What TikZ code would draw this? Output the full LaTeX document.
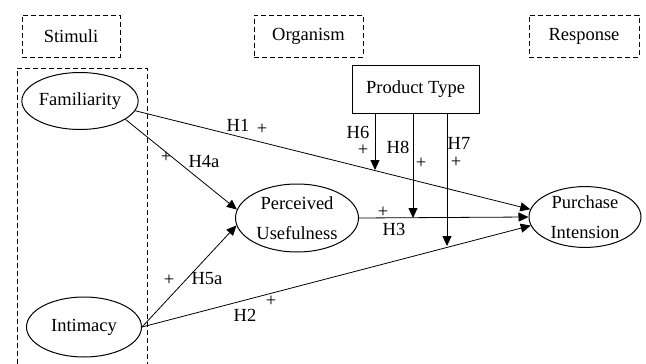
\documentclass[tikz,border=0pt]{standalone}
\usepackage{fontspec}
\setmainfont{Liberation Serif}
\usetikzlibrary{shapes.geometric,arrows.meta}

\begin{document}
\begin{tikzpicture}[
        x=1pt, y=-1pt,
        every node/.style={
            font=\rmfamily\fontsize{18.5}{30}\selectfont,
            inner sep=0pt
        },
        stage/.style={
            draw=black,
            line width=0.9pt,
            dash pattern=on 5pt off 3pt,
            minimum height=42pt
        },
        construct/.style={
            ellipse,
            draw=black,
            line width=1pt,
            align=center
        },
        path/.style={
            draw=black,
            line width=0.8pt,
            -{Triangle[length=10pt,width=9pt]}
        }
    ]
    \useasboundingbox (0,0) rectangle (646,364);

    % Stages
    \node[stage, minimum width=98pt]  (st) at (71,36)    {Stimuli};
    \node[stage, minimum width=109pt] (org) at (308.5,36) {Organism};
    \node[stage, minimum width=110pt] (res) at (584,36)   {Response};
    \draw[line width=0.9pt, dash pattern=on 5pt off 3pt] (17,364) -- (17,68) -- (147,68) -- (147,364);

    % Constructs
    \node[construct, minimum width=114pt, minimum height=57pt] (fam) at (80,101)  {Familiarity};
    \node[construct, minimum width=115pt, minimum height=60pt] (int) at (84,327)  {Intimacy};
    \node[construct, minimum width=123pt, minimum height=68pt] (pu)  at (297,218) {Perceived\\Usefulness};
    \node[construct, minimum width=112pt, minimum height=60pt] (pi)  at (585,217) {Purchase\\Intension};
    \node[draw=black, line width=1pt, minimum width=127pt, minimum height=48pt] (pt) at (415.5,89) {Product Type};

    % Paths
    \draw[path] (fam.-10) -- (pi.172);
    \draw[path] (fam.-22) -- (pu.172);
    \draw[path] (int.east) -- (pu.187);
    \draw[path] (int.east) -- (pi.189);
    \draw[path] (pu.east) -- (pi.west);

    % Moderation
    \coordinate (m6) at (375,170);
    \coordinate (m8) at (413,218);
    \coordinate (m7) at (447,246);
    \draw[path] (pt.south -| m6) -- (m6);
    \draw[path] (pt.south -| m8) -- (m8);
    \draw[path] (pt.south -| m7) -- (m7);

    % Labels
    \node (h1)  at (238,125) {H1};
    \node (p1)  at (262,129) {+};
    \node (p4)  at (166,157) {+};
    \node (h4)  at (204,162) {H4a};
    \node (h6)  at (358,132) {H6};
    \node (p6)  at (363,150) {+};
    \node (h8)  at (398,147) {H8};
    \node (p8)  at (421,163) {+};
    \node (h7)  at (459,143) {H7};
    \node (p7)  at (456,162) {+};
    \node (p3)  at (383,212) {+};
    \node (h3)  at (394,229) {H3};
    \node (p5)  at (169,280) {+};
    \node (h5)  at (207,279) {H5a};
    \node (p2)  at (271,301) {+};
    \node (h2)  at (245,315) {H2};

\end{tikzpicture}
\end{document}
